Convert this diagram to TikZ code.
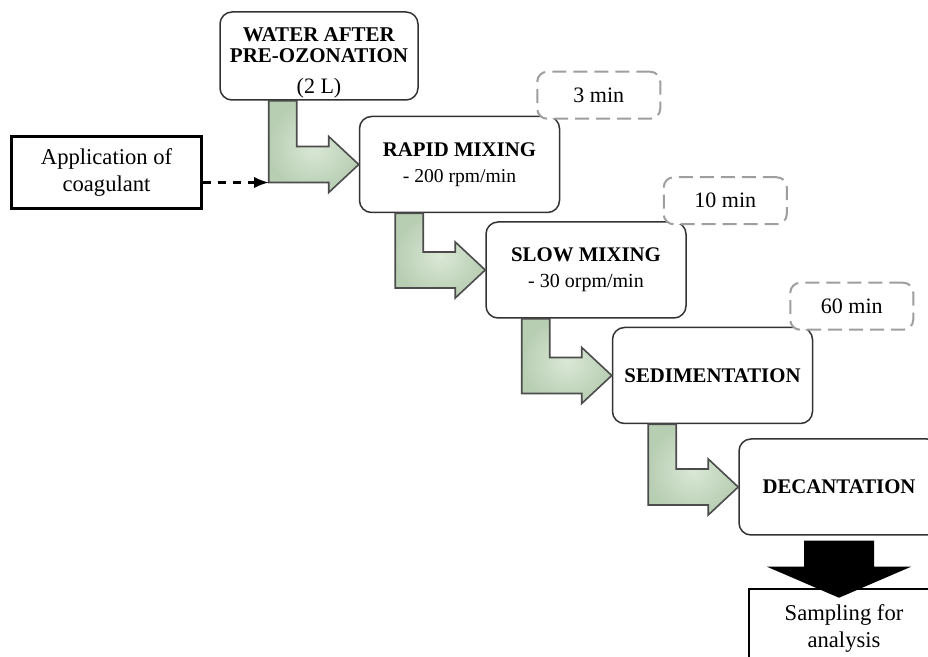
\documentclass[tikz,border=0pt]{standalone}
\usepackage{fontspec}
\setmainfont{Liberation Serif}
\usetikzlibrary{positioning, calc}

\begin{document}
\begin{tikzpicture}[
        x = 0.5pt, y = -0.5pt,
        node distance = 4pt and -37.5pt,
        stage/.style = {rectangle, draw=black!80, fill=white, line width=0.75pt,
            rounded corners=6pt, align=center, minimum width=100pt,
            minimum height=48pt, inner sep=2pt, font=\fontsize{10.4}{12}\selectfont},
        timebox/.style = {rectangle, draw=black!38, fill=white,
            dash pattern=on 7pt off 3.5pt, line width=1pt, rounded corners=5pt,
            minimum width=61.5pt, minimum height=23.5pt,
            font=\fontsize{11}{13}\selectfont},
        note/.style = {rectangle, draw, fill=white, line width=1.2pt, align=center,
            minimum width=95pt, minimum height=36pt,
            font=\fontsize{11.3}{13.5}\selectfont},
        turn/.style = {draw=black!70, line width=0.8pt, shade,
            inner color={rgb,255:red,218;green,232;blue,214},
            outer color={rgb,255:red,184;green,206;blue,179}},
        feed/.style = {draw, line width=1.5pt, dash pattern=on 4pt off 3.5pt, -latex},
        blockarrow/.style = {fill=black}
    ]
    \useasboundingbox (0,0) rectangle (928,657);
    \clip (0,0) rectangle (928,657);

    % Stages
    \node (water) [stage, minimum width=99pt, minimum height=44pt, inner ysep=0pt,
        font=\fontsize{10.5}{10.5}\selectfont] at (319,56)
        {\rule{0pt}{14pt}\textbf{WATER AFTER}\\\textbf{PRE-OZONATION}\\[5pt]{\fontsize{11}{12}\selectfont (2 L)}};
    \node (rapid) [stage, below right=7.5pt and -30pt of water]
        {\textbf{RAPID MIXING}\\[1pt]{\fontsize{9.8}{12}\selectfont - 200 rpm/min}};
    \node (slow) [stage, below right=of rapid]
        {\textbf{SLOW MIXING}\\[1pt]{\fontsize{10}{12}\selectfont - 30 orpm/min}};
    \node (sed) [stage, below right=of slow] {\textbf{SEDIMENTATION}};
    \node (dec) [stage, below right=7pt and -37.5pt of sed] {\textbf{DECANTATION}};

    % Times
    \node (t3) [timebox, above right=-2pt and -12pt of rapid] {3 min};
    \node (t10) [timebox, above right=-2pt and -12pt of slow] {10 min};
    \node (t60) [timebox, above right=-2pt and -12pt of sed] {60 min};

    % Side boxes
    \node (app) [note, left=78pt of rapid, yshift=-4pt] {Application of\\coagulant};
    \node (sample) [note, below=26pt of dec, xshift=2.5pt, minimum height=39.5pt]
        {Sampling for\\analysis};

    % Arrows
    \foreach \from/\to in {water/rapid, rapid/slow, slow/sed, sed/dec}
        \path [turn] let \p1 = (\to.west), \p2 = (\from.south) in
            (\x1-45pt,\y2) -- (\x1-31pt,\y2) -- (\x1-31pt,\y1+9pt)
            -- (\x1-15pt,\y1+9pt) -- (\x1-15pt,\y1+14pt) -- (\x1,\y1)
            -- (\x1-15pt,\y1-14pt) -- (\x1-15pt,\y1-9pt)
            -- (\x1-45pt,\y1-9pt) -- cycle;

    \coordinate (inlet) at ($(rapid.west)+(-90,18)$);
    \path [feed] (app.east |- inlet) -- (inlet);

    \path [blockarrow] let \p1 = (dec.south), \p2 = (sample.north) in
        (\x1-17.5pt,\y1-2.5pt) -- (\x1+17.5pt,\y1-2.5pt)
        -- (\x1+17.5pt,\y2+10.5pt) -- (\x1+36pt,\y2+10.5pt) -- (\x1,\y2-5pt)
        -- (\x1-36pt,\y2+10.5pt) -- (\x1-17.5pt,\y2+10.5pt) -- cycle;

\end{tikzpicture}
\end{document}
